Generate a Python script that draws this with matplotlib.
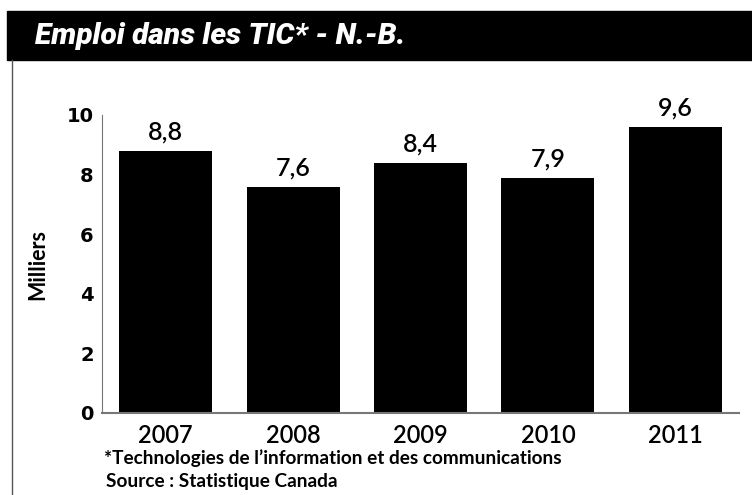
import matplotlib.pyplot as plt
from matplotlib.patches import Rectangle
from matplotlib.lines import Line2D

# données
annees = ["2007", "2008", "2009", "2010", "2011"]
emplois = [8.8, 7.6, 8.4, 7.9, 9.6]
etiquettes = ["8,8", "7,6", "8,4", "7,9", "9,6"]
yticks = [0, 2, 4, 6, 8, 10]

police = ["Lato", "DejaVu Sans"]

fig = plt.figure(figsize=(7.52, 4.95), dpi=100)

# bandeau du titre
fig.patches.append(Rectangle((7 / 752, 1 - 60 / 495), 1, 49 / 495,
                             transform=fig.transFigure, color="black", zorder=0))
fig.text(35 / 752, 1 - 36 / 495, "Emploi dans les TIC* - N.-B.", color="white",
         family=["Roboto", "DejaVu Sans"], fontsize=21.5, fontweight="black",
         fontstyle="italic", va="center")
# bordure gauche
fig.lines.append(Line2D([12 / 752, 12 / 752], [0, 1 - 60 / 495], transform=fig.transFigure,
                        color="#555555", linewidth=1))

ax = fig.add_axes([102 / 752, 1 - 413 / 495, 637 / 752, 298 / 495])
x = range(len(annees))
ax.bar(x, emplois, width=0.73, color="black")
for xi, v, t in zip(x, emplois, etiquettes):
    ax.text(xi, v + 0.25, t, ha="center", va="bottom", family=police,
            fontsize=18, fontweight="semibold")

ax.set_xlim(-0.5, 4.5)
ax.set_ylim(0, 10)
ax.set_yticks(yticks)
ax.set_yticklabels([str(t) for t in yticks], fontweight="bold", fontsize=14)
ax.set_xticks(list(x))
ax.set_xticklabels(annees, family=police, fontsize=17, fontweight="semibold")
ax.tick_params(length=0)
ax.tick_params(axis="y", pad=6)
ax.tick_params(axis="x", pad=8)
for s in ["top", "right"]:
    ax.spines[s].set_visible(False)
ax.spines["left"].set_color("#777777")
ax.spines["bottom"].set_color("#777777")
ax.spines["bottom"].set_linewidth(1.5)
ax.set_ylabel("Milliers", family=police, fontsize=15.5, fontweight="bold", labelpad=13)

fig.text(104 / 752, 1 - 458 / 495, "*Technologies de l’information et des communications",
         family=police, fontsize=13.7, fontweight="bold", va="center")
fig.text(106 / 752, 1 - 481 / 495, "Source : Statistique Canada",
         family=police, fontsize=13.7, fontweight="bold", va="center")

fig.savefig("out.png", dpi=100)
